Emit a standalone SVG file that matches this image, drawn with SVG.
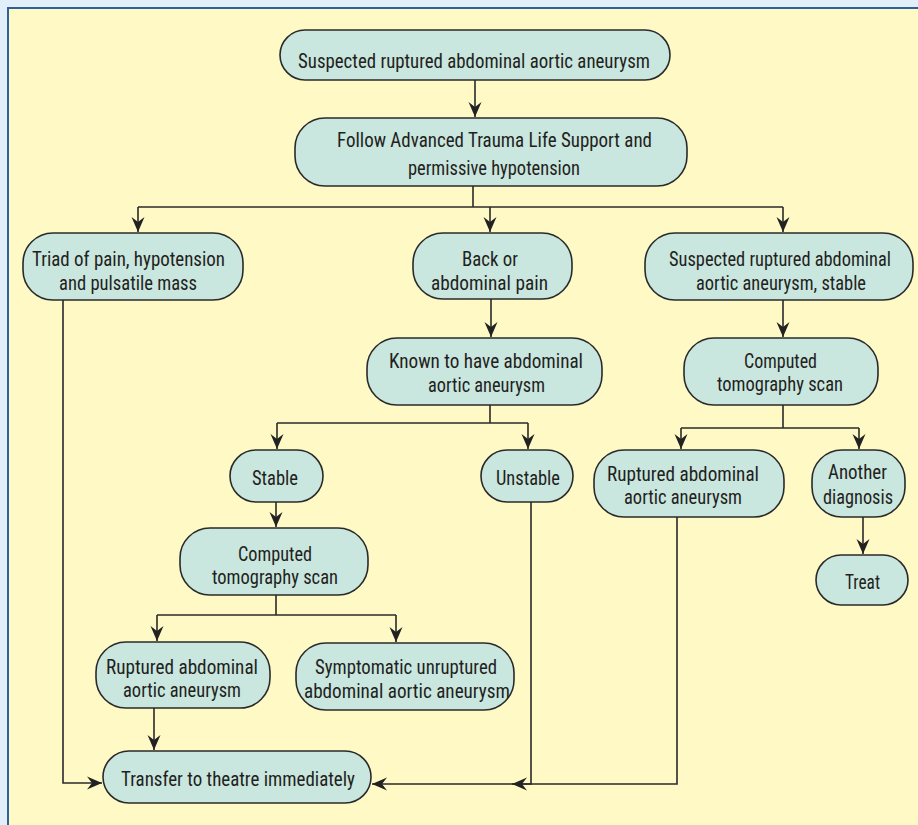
<svg xmlns="http://www.w3.org/2000/svg" width="918" height="825" viewBox="0 0 918 825">
<defs>
<marker id="ah" viewBox="-16 -7 17 14" refX="0" refY="0" markerWidth="17" markerHeight="14" markerUnits="userSpaceOnUse" orient="auto">
<path d="M0,0 L-15,-6.5 L-10,0 L-15,6.5 Z" fill="#222"/>
</marker>
<style>
.n{fill:#c9e6df;stroke:#2a2a2a;stroke-width:1.6}
.t{font-family:"Liberation Sans Narrow","Roboto Condensed","DejaVu Sans Condensed","Liberation Sans",sans-serif;font-size:21px;fill:#231f20;text-anchor:middle}
.c{fill:none;stroke:#2a2a2a;stroke-width:1.6}
.a{marker-end:url(#ah)}
</style>
</defs>
<rect x="0" y="0" width="918" height="825" fill="#e3eefb"/>
<rect x="8" y="8" width="930" height="840" fill="#fff9c6" stroke="#2f609e" stroke-width="2"/>

<g id="connectors">
<path class="c a" d="M475,80 V117"/>
<path class="c" d="M473,186 V207"/>
<path class="c" d="M138,207 H783"/>
<path class="c a" d="M138,207 V232"/>
<path class="c a" d="M490,207 V232"/>
<path class="c a" d="M783,207 V232"/>
<path class="c a" d="M491,299 V337"/>
<path class="c" d="M490,405 V423"/>
<path class="c" d="M277,423 H528"/>
<path class="c a" d="M277,423 V449"/>
<path class="c a" d="M528,423 V449"/>
<path class="c a" d="M276,502 V527"/>
<path class="c" d="M276,595 V615"/>
<path class="c" d="M157,615 H396"/>
<path class="c a" d="M157,615 V641"/>
<path class="c a" d="M396,615 V642"/>
<path class="c a" d="M154,708 V750"/>
<path class="c a" d="M63,300 V783 H102"/>
<path class="c a" d="M531,502 V784 H372"/>
<path class="c a" d="M677,517 V784 H512"/>
<path class="c a" d="M783,300 V337"/>
<path class="c" d="M783,405 V428"/>
<path class="c" d="M681,428 H859"/>
<path class="c a" d="M681,428 V449"/>
<path class="c a" d="M859,428 V449"/>
<path class="c a" d="M863,517 V554"/>
</g>

<g id="n1"><rect class="n" x="280" y="30" width="390" height="50" rx="25"/>
<text class="t" x="474" y="68" textLength="352" lengthAdjust="spacingAndGlyphs">Suspected ruptured abdominal aortic aneurysm</text></g>

<g id="n2"><rect class="n" x="295" y="118" width="392" height="68" rx="30"/>
<text class="t" x="494.5" y="147" textLength="315" lengthAdjust="spacingAndGlyphs">Follow Advanced Trauma Life Support and</text>
<text class="t" x="494" y="175" textLength="172" lengthAdjust="spacingAndGlyphs">permissive hypotension</text></g>

<g id="n3"><rect class="n" x="23" y="233" width="220" height="67" rx="30"/>
<text class="t" x="128.5" y="266" textLength="193" lengthAdjust="spacingAndGlyphs">Triad of pain, hypotension</text>
<text class="t" x="128" y="290" textLength="138" lengthAdjust="spacingAndGlyphs">and pulsatile mass</text></g>

<g id="n4"><rect class="n" x="413" y="233" width="159" height="66" rx="30"/>
<text class="t" x="490" y="266" textLength="56" lengthAdjust="spacingAndGlyphs">Back or</text>
<text class="t" x="489.5" y="290" textLength="117" lengthAdjust="spacingAndGlyphs">abdominal pain</text></g>

<g id="n5"><rect class="n" x="645" y="233" width="268" height="67" rx="30"/>
<text class="t" x="780" y="266" textLength="222" lengthAdjust="spacingAndGlyphs">Suspected ruptured abdominal</text>
<text class="t" x="781" y="290" textLength="170" lengthAdjust="spacingAndGlyphs">aortic aneurysm, stable</text></g>

<g id="n6"><rect class="n" x="367" y="338" width="235" height="67" rx="30"/>
<text class="t" x="486" y="368" textLength="194" lengthAdjust="spacingAndGlyphs">Known to have abdominal</text>
<text class="t" x="486.5" y="392" textLength="117" lengthAdjust="spacingAndGlyphs">aortic aneurysm</text></g>

<g id="n7"><rect class="n" x="230" y="450" width="93" height="52" rx="26"/>
<text class="t" x="275" y="485" textLength="46" lengthAdjust="spacingAndGlyphs">Stable</text></g>

<g id="n8"><rect class="n" x="481" y="450" width="92" height="52" rx="26"/>
<text class="t" x="528" y="485" textLength="64" lengthAdjust="spacingAndGlyphs">Unstable</text></g>

<g id="n9"><rect class="n" x="180" y="528" width="188" height="67" rx="30"/>
<text class="t" x="275" y="561" textLength="74" lengthAdjust="spacingAndGlyphs">Computed</text>
<text class="t" x="275" y="584" textLength="126" lengthAdjust="spacingAndGlyphs">tomography scan</text></g>

<g id="n10"><rect class="n" x="684" y="338" width="194" height="67" rx="30"/>
<text class="t" x="780.5" y="368" textLength="73" lengthAdjust="spacingAndGlyphs">Computed</text>
<text class="t" x="780" y="391" textLength="126" lengthAdjust="spacingAndGlyphs">tomography scan</text></g>

<g id="n11"><rect class="n" x="594" y="450" width="190" height="67" rx="30"/>
<text class="t" x="683" y="481" textLength="152" lengthAdjust="spacingAndGlyphs">Ruptured abdominal</text>
<text class="t" x="683" y="504" textLength="118" lengthAdjust="spacingAndGlyphs">aortic aneurysm</text></g>

<g id="n12"><rect class="n" x="812" y="450" width="93" height="67" rx="30"/>
<text class="t" x="857.5" y="479" textLength="59" lengthAdjust="spacingAndGlyphs">Another</text>
<text class="t" x="858" y="504" textLength="70" lengthAdjust="spacingAndGlyphs">diagnosis</text></g>

<g id="n13"><rect class="n" x="816" y="555" width="92" height="50" rx="25"/>
<text class="t" x="862.5" y="589" textLength="35" lengthAdjust="spacingAndGlyphs">Treat</text></g>

<g id="n14"><rect class="n" x="96" y="642" width="174" height="66" rx="30"/>
<text class="t" x="182" y="674" textLength="152" lengthAdjust="spacingAndGlyphs">Ruptured abdominal</text>
<text class="t" x="182" y="697" textLength="118" lengthAdjust="spacingAndGlyphs">aortic aneurysm</text></g>

<g id="n15"><rect class="n" x="296" y="643" width="218" height="67" rx="30"/>
<text class="t" x="406" y="674" textLength="182" lengthAdjust="spacingAndGlyphs">Symptomatic unruptured</text>
<text class="t" x="407" y="698" textLength="206" lengthAdjust="spacingAndGlyphs">abdominal aortic aneurysm</text></g>

<g id="n16"><rect class="n" x="103" y="751" width="268" height="52" rx="26"/>
<text class="t" x="238" y="786" textLength="234" lengthAdjust="spacingAndGlyphs">Transfer to theatre immediately</text></g>
</svg>
